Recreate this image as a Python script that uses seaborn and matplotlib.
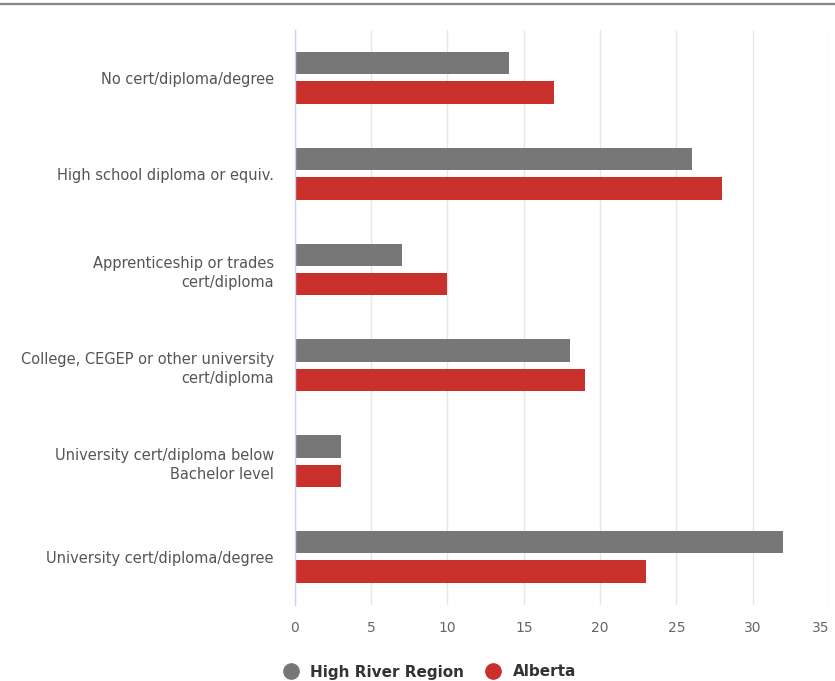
import matplotlib
matplotlib.use("Agg")
import matplotlib.pyplot as plt
import seaborn as sns
import pandas as pd
from matplotlib.lines import Line2D

categories = [
    "No cert/diploma/degree",
    "High school diploma or equiv.",
    "Apprenticeship or trades\ncert/diploma",
    "College, CEGEP or other university\ncert/diploma",
    "University cert/diploma below\nBachelor level",
    "University cert/diploma/degree",
]
high_river = [14, 26, 7, 18, 3, 32]
alberta = [17, 28, 10, 19, 3, 23]
series_names = ["High River Region", "Alberta"]
colors = ["#777777", "#c9302c"]
x_ticks = [0, 5, 10, 15, 20, 25, 30, 35]

df = pd.DataFrame({
    "category": categories * 2,
    "value": high_river + alberta,
    "series": [series_names[0]] * len(categories) + [series_names[1]] * len(categories),
})

sns.set_theme(style="white")
plt.rcParams['font.family'] = ['DejaVu Sans']

fig = plt.figure(figsize=(8.35, 6.81), dpi=100)
ax = fig.add_axes([0.353, 0.112, 0.640, 0.844])

sns.barplot(data=df, y="category", x="value", hue="series", order=categories,
            hue_order=series_names, palette=colors, orient="h", width=0.614, gap=0.24,
            ax=ax, legend=False, saturation=1, linewidth=0)

ax.set_xlim(0, 35)
ax.set_ylim(5.5, -0.5)
ax.set_xticks(x_ticks)
ax.set_xticklabels([str(t) for t in x_ticks], fontsize=10, color="#666666")
ax.get_xticklabels()[-1].set_horizontalalignment("right")
ax.set_yticks(range(len(categories)))
ax.set_yticklabels(categories, fontsize=10.5, color="#555555", linespacing=1.35)
ax.tick_params(axis="y", length=0, pad=15)
ax.tick_params(axis="x", length=0, pad=12)
ax.set_xlabel("")
ax.set_ylabel("")
ax.grid(axis="x", color="#e6e6e6", linewidth=1)
ax.set_axisbelow(True)
for s in ["top", "right", "bottom"]:
    ax.spines[s].set_visible(False)
ax.spines["left"].set_color("#ccd6eb")
ax.spines["left"].set_linewidth(1)
ax.spines["left"].set_zorder(5)

fig.add_artist(Line2D([0, 1], [1 - 4 / 681, 1 - 4 / 681], transform=fig.transFigure,
                      color="#888888", linewidth=1.6))

handles = [Line2D([], [], marker="o", linestyle="", markersize=11, color=c) for c in colors]
leg = fig.legend(handles, series_names, loc="center", bbox_to_anchor=(426 / 835, 1 - 672 / 681),
                 ncol=2, frameon=False, handletextpad=0.3, columnspacing=0.9,
                 prop={"weight": "bold", "size": 11})
for t in leg.get_texts():
    t.set_color("#333333")

fig.savefig("out.png", dpi=100)
